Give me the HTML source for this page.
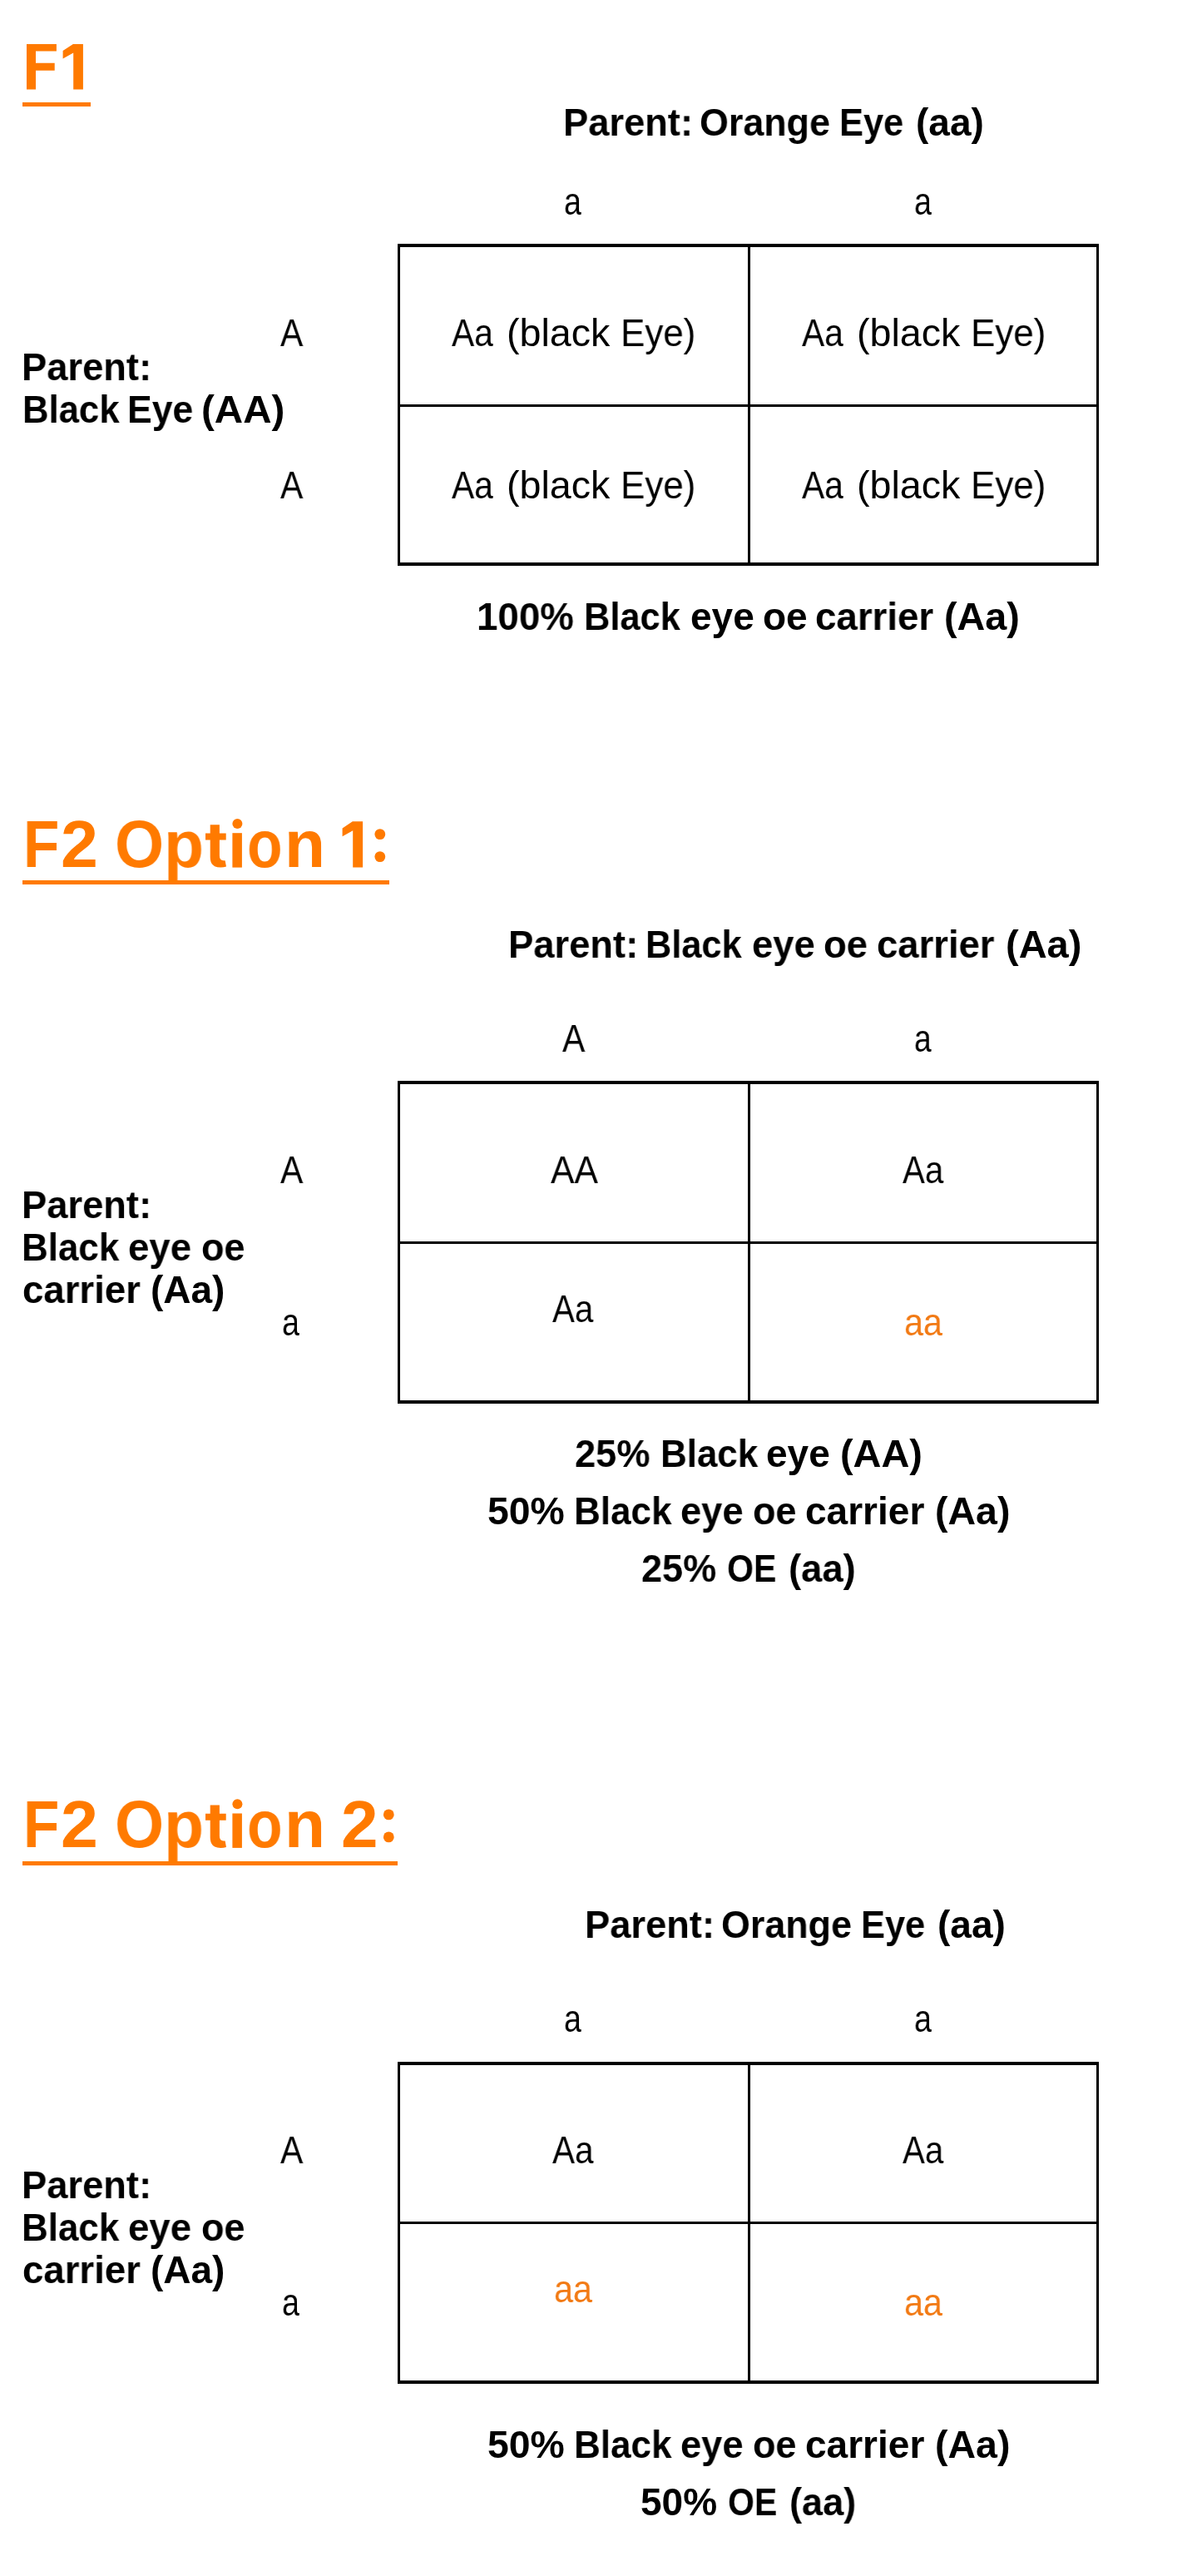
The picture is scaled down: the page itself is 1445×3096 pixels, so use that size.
<!DOCTYPE html>
<html><head><meta charset="utf-8"><title>Punnett squares</title><style>
html,body{margin:0;padding:0;background:#fff;}
body{position:relative;width:1445px;height:3096px;overflow:hidden;font-family:"Liberation Sans",sans-serif;}
.t{position:absolute;white-space:nowrap;line-height:1;transform-origin:0 0;will-change:transform;}
.b{font-weight:bold;}
.ln{position:absolute;}
svg{position:absolute;left:0;top:0;}
</style></head><body>
<div class="ln" style="left:478px;top:293px;width:843px;height:4px;background:#000"></div>
<div class="ln" style="left:478px;top:676px;width:843px;height:4px;background:#000"></div>
<div class="ln" style="left:478px;top:293px;width:3px;height:387px;background:#000"></div>
<div class="ln" style="left:1318px;top:293px;width:3px;height:387px;background:#000"></div>
<div class="ln" style="left:899px;top:293px;width:3px;height:387px;background:#000"></div>
<div class="ln" style="left:478px;top:486px;width:843px;height:3px;background:#000"></div>
<div class="ln" style="left:478px;top:1299px;width:843px;height:4px;background:#000"></div>
<div class="ln" style="left:478px;top:1683px;width:843px;height:4px;background:#000"></div>
<div class="ln" style="left:478px;top:1299px;width:3px;height:388px;background:#000"></div>
<div class="ln" style="left:1318px;top:1299px;width:3px;height:388px;background:#000"></div>
<div class="ln" style="left:899px;top:1299px;width:3px;height:388px;background:#000"></div>
<div class="ln" style="left:478px;top:1492px;width:843px;height:3px;background:#000"></div>
<div class="ln" style="left:478px;top:2478px;width:843px;height:4px;background:#000"></div>
<div class="ln" style="left:478px;top:2861px;width:843px;height:4px;background:#000"></div>
<div class="ln" style="left:478px;top:2478px;width:3px;height:387px;background:#000"></div>
<div class="ln" style="left:1318px;top:2478px;width:3px;height:387px;background:#000"></div>
<div class="ln" style="left:899px;top:2478px;width:3px;height:387px;background:#000"></div>
<div class="ln" style="left:478px;top:2670px;width:843px;height:3px;background:#000"></div>
<div class="ln" style="left:27px;top:123px;width:82px;height:5px;background:#FF7A00"></div>
<div class="ln" style="left:27px;top:1058px;width:441px;height:5px;background:#FF7A00"></div>
<div class="ln" style="left:27px;top:2236.5px;width:451px;height:5px;background:#FF7A00"></div>
<svg width="1445" height="3096" viewBox="0 0 1445 3096">
<polygon points="32,53 67.9,53 67.9,61.6 43,61.6 43,75.7 65.7,75.7 65.7,84.8 43,84.8 43,107.6 32,107.6" fill="#FF7A00"/>
<polygon points="87.9,53 99.9,53 99.9,107.6 88.2,107.6 88.2,63.6 75.6,70.6 75.6,61" fill="#FF7A00"/>
<polygon points="423.8,987.3 436.1,987.3 436.1,1042.5 424.2,1042.5 424.2,998.2 411.6,1005.3 411.6,995.6" fill="#FF7A00"/>
<g transform="translate(0,0)" fill="#FF7A00"><path d="M252.7,991.2H263.9V1001.5H271.7V1009.4H263.9V1028.5Q263.9,1034.2 268.6,1034.2H270.6L272,1041.6Q269.2,1042.6 265.2,1042.6Q252.7,1042.6 252.7,1030.2V1009.4H247V1001.5H252.7Z"/><rect x="279.4" y="1001.2" width="11.5" height="41.4"/><circle cx="285.4" cy="990" r="6"/><circle cx="456.8" cy="1002.6" r="6.4"/><circle cx="456.8" cy="1029.6" r="6.4"/></g>
<g transform="translate(0,1178.3)" fill="#FF7A00"><path d="M252.7,991.2H263.9V1001.5H271.7V1009.4H263.9V1028.5Q263.9,1034.2 268.6,1034.2H270.6L272,1041.6Q269.2,1042.6 265.2,1042.6Q252.7,1042.6 252.7,1030.2V1009.4H247V1001.5H252.7Z"/><rect x="279.4" y="1001.2" width="11.5" height="41.4"/><circle cx="285.4" cy="990" r="6"/><circle cx="467.3" cy="1002.6" r="6.4"/><circle cx="467.3" cy="1029.6" r="6.4"/></g>
</svg>
<div class="t b" style="left:677.45px;top:123.86px;font-size:46px;color:#000;transform:scaleX(0.9841)">Parent:</div>
<div class="t b" style="left:841.05px;top:123.86px;font-size:46px;color:#000;transform:scaleX(0.9747)">Orange</div>
<div class="t b" style="left:1009.37px;top:123.86px;font-size:46px;color:#000;transform:scaleX(0.9423)">Eye</div>
<div class="t b" style="left:1101.00px;top:123.86px;font-size:46px;color:#000">(aa)</div>
<div class="t" style="left:678.08px;top:218.76px;font-size:46px;color:#000;transform:scaleX(0.8125)">a</div>
<div class="t" style="left:1098.66px;top:218.76px;font-size:46px;color:#000;transform:scaleX(0.8208)">a</div>
<div class="t" style="left:336.70px;top:376.76px;font-size:46px;color:#000;transform:scaleX(0.8871)">A</div>
<div class="t" style="left:336.70px;top:559.66px;font-size:46px;color:#000;transform:scaleX(0.8871)">A</div>
<div class="t b" style="left:26.35px;top:418.06px;font-size:46px;color:#000;transform:scaleX(0.9848)">Parent:</div>
<div class="t b" style="left:26.75px;top:469.46px;font-size:46px;color:#000;transform:scaleX(0.9492)">Black</div>
<div class="t b" style="left:153.00px;top:469.46px;font-size:46px;color:#000;transform:scaleX(0.9679)">Eye</div>
<div class="t b" style="left:241.73px;top:469.46px;font-size:46px;color:#000;transform:scaleX(1.0333)">(AA)</div>
<div class="t" style="left:542.60px;top:376.76px;font-size:46px;color:#000;transform:scaleX(0.8842)">Aa</div>
<div class="t" style="left:608.96px;top:376.76px;font-size:46px;color:#000;transform:scaleX(1.0133)">(black</div>
<div class="t" style="left:746.24px;top:376.76px;font-size:46px;color:#000;transform:scaleX(0.9539)">Eye)</div>
<div class="t" style="left:963.50px;top:376.76px;font-size:46px;color:#000;transform:scaleX(0.8842)">Aa</div>
<div class="t" style="left:1029.86px;top:376.76px;font-size:46px;color:#000;transform:scaleX(1.0133)">(black</div>
<div class="t" style="left:1167.14px;top:376.76px;font-size:46px;color:#000;transform:scaleX(0.9539)">Eye)</div>
<div class="t" style="left:542.60px;top:559.56px;font-size:46px;color:#000;transform:scaleX(0.8842)">Aa</div>
<div class="t" style="left:608.96px;top:559.56px;font-size:46px;color:#000;transform:scaleX(1.0133)">(black</div>
<div class="t" style="left:746.24px;top:559.56px;font-size:46px;color:#000;transform:scaleX(0.9539)">Eye)</div>
<div class="t" style="left:963.50px;top:559.56px;font-size:46px;color:#000;transform:scaleX(0.8842)">Aa</div>
<div class="t" style="left:1029.86px;top:559.56px;font-size:46px;color:#000;transform:scaleX(1.0133)">(black</div>
<div class="t" style="left:1167.14px;top:559.56px;font-size:46px;color:#000;transform:scaleX(0.9539)">Eye)</div>
<div class="t b" style="left:572.72px;top:717.76px;font-size:46px;color:#000;transform:scaleX(0.9930)">100%</div>
<div class="t b" style="left:702.17px;top:717.76px;font-size:46px;color:#000;transform:scaleX(0.9433)">Black</div>
<div class="t b" style="left:829.91px;top:717.76px;font-size:46px;color:#000;transform:scaleX(0.9973)">eye</div>
<div class="t b" style="left:917.00px;top:717.76px;font-size:46px;color:#000;transform:scaleX(0.9980)">oe</div>
<div class="t b" style="left:980.01px;top:717.76px;font-size:46px;color:#000;transform:scaleX(0.9929)">carrier</div>
<div class="t b" style="left:1135.47px;top:717.76px;font-size:46px;color:#000;transform:scaleX(1.0153)">(Aa)</div>
<div class="t b" style="left:27.57px;top:974.78px;font-size:80px;color:#FF7A00;transform:scaleX(0.8854)">F</div>
<div class="t b" style="left:73.28px;top:974.78px;font-size:80px;color:#FF7A00;transform:scaleX(1.0075)">2</div>
<div class="t b" style="left:138.36px;top:974.78px;font-size:80px;color:#FF7A00;transform:scaleX(0.9482)">O</div>
<div class="t b" style="left:196.69px;top:974.78px;font-size:80px;color:#FF7A00;transform:scaleX(0.9829)">p</div>
<div class="t b" style="left:297.19px;top:974.78px;font-size:80px;color:#FF7A00;transform:scaleX(0.8698)">o</div>
<div class="t b" style="left:341.79px;top:974.78px;font-size:80px;color:#FF7A00;transform:scaleX(1.0026)">n</div>
<div class="t b" style="left:611.44px;top:1111.76px;font-size:46px;color:#000;transform:scaleX(0.9854)">Parent:</div>
<div class="t b" style="left:776.17px;top:1111.76px;font-size:46px;color:#000;transform:scaleX(0.9417)">Black</div>
<div class="t b" style="left:903.53px;top:1111.76px;font-size:46px;color:#000;transform:scaleX(0.9865)">eye</div>
<div class="t b" style="left:989.92px;top:1111.76px;font-size:46px;color:#000;transform:scaleX(0.9880)">oe</div>
<div class="t b" style="left:1054.32px;top:1111.76px;font-size:46px;color:#000;transform:scaleX(0.9879)">carrier</div>
<div class="t b" style="left:1208.56px;top:1111.76px;font-size:46px;color:#000;transform:scaleX(1.0212)">(Aa)</div>
<div class="t" style="left:676.20px;top:1225.06px;font-size:46px;color:#000;transform:scaleX(0.8871)">A</div>
<div class="t" style="left:1099.09px;top:1225.06px;font-size:46px;color:#000;transform:scaleX(0.8042)">a</div>
<div class="t" style="left:336.70px;top:1382.96px;font-size:46px;color:#000;transform:scaleX(0.8871)">A</div>
<div class="t" style="left:338.56px;top:1565.56px;font-size:46px;color:#000;transform:scaleX(0.8208)">a</div>
<div class="t b" style="left:26.35px;top:1424.76px;font-size:46px;color:#000;transform:scaleX(0.9848)">Parent:</div>
<div class="t b" style="left:26.04px;top:1475.76px;font-size:46px;color:#000;transform:scaleX(0.9550)">Black</div>
<div class="t b" style="left:154.32px;top:1475.76px;font-size:46px;color:#000;transform:scaleX(0.9905)">eye</div>
<div class="t b" style="left:241.64px;top:1475.76px;font-size:46px;color:#000;transform:scaleX(0.9780)">oe</div>
<div class="t b" style="left:27.32px;top:1527.06px;font-size:46px;color:#000;transform:scaleX(0.9908)">carrier</div>
<div class="t b" style="left:181.00px;top:1527.06px;font-size:46px;color:#000">(Aa)</div>
<div class="t" style="left:661.70px;top:1382.86px;font-size:46px;color:#000;transform:scaleX(0.9262)">AA</div>
<div class="t" style="left:1084.90px;top:1382.86px;font-size:46px;color:#000;transform:scaleX(0.8737)">Aa</div>
<div class="t" style="left:664.00px;top:1549.76px;font-size:46px;color:#000;transform:scaleX(0.8737)">Aa</div>
<div class="t" style="left:1086.60px;top:1565.66px;font-size:46px;color:#F27A14;transform:scaleX(0.8980)">aa</div>
<div class="t b" style="left:690.92px;top:1723.76px;font-size:46px;color:#000;transform:scaleX(0.9822)">25%</div>
<div class="t b" style="left:793.64px;top:1723.76px;font-size:46px;color:#000;transform:scaleX(0.9542)">Black</div>
<div class="t b" style="left:921.01px;top:1723.76px;font-size:46px;color:#000;transform:scaleX(0.9973)">eye</div>
<div class="t b" style="left:1009.76px;top:1723.76px;font-size:46px;color:#000;transform:scaleX(1.0194)">(AA)</div>
<div class="t b" style="left:585.59px;top:1792.96px;font-size:46px;color:#000;transform:scaleX(1.0067)">50%</div>
<div class="t b" style="left:689.93px;top:1792.96px;font-size:46px;color:#000;transform:scaleX(0.9567)">Black</div>
<div class="t b" style="left:818.03px;top:1792.96px;font-size:46px;color:#000;transform:scaleX(0.9838)">eye</div>
<div class="t b" style="left:904.84px;top:1792.96px;font-size:46px;color:#000;transform:scaleX(0.9780)">oe</div>
<div class="t b" style="left:967.70px;top:1792.96px;font-size:46px;color:#000;transform:scaleX(1.0007)">carrier</div>
<div class="t b" style="left:1123.78px;top:1792.96px;font-size:46px;color:#000;transform:scaleX(1.0106)">(Aa)</div>
<div class="t b" style="left:770.62px;top:1861.76px;font-size:46px;color:#000;transform:scaleX(0.9789)">25%</div>
<div class="t b" style="left:873.81px;top:1861.76px;font-size:46px;color:#000;transform:scaleX(0.8937)">OE</div>
<div class="t b" style="left:947.83px;top:1861.76px;font-size:46px;color:#000;transform:scaleX(0.9859)">(aa)</div>
<div class="t b" style="left:27.57px;top:2153.08px;font-size:80px;color:#FF7A00;transform:scaleX(0.8854)">F</div>
<div class="t b" style="left:73.28px;top:2153.08px;font-size:80px;color:#FF7A00;transform:scaleX(1.0075)">2</div>
<div class="t b" style="left:138.36px;top:2153.08px;font-size:80px;color:#FF7A00;transform:scaleX(0.9482)">O</div>
<div class="t b" style="left:196.69px;top:2153.08px;font-size:80px;color:#FF7A00;transform:scaleX(0.9829)">p</div>
<div class="t b" style="left:297.19px;top:2153.08px;font-size:80px;color:#FF7A00;transform:scaleX(0.8698)">o</div>
<div class="t b" style="left:341.79px;top:2153.08px;font-size:80px;color:#FF7A00;transform:scaleX(1.0026)">n</div>
<div class="t b" style="left:409.90px;top:2153.08px;font-size:80px;color:#FF7A00;transform:scaleX(0.9975)">2</div>
<div class="t b" style="left:703.25px;top:2289.86px;font-size:46px;color:#000;transform:scaleX(0.9841)">Parent:</div>
<div class="t b" style="left:866.85px;top:2289.86px;font-size:46px;color:#000;transform:scaleX(0.9747)">Orange</div>
<div class="t b" style="left:1035.17px;top:2289.86px;font-size:46px;color:#000;transform:scaleX(0.9423)">Eye</div>
<div class="t b" style="left:1126.80px;top:2289.86px;font-size:46px;color:#000">(aa)</div>
<div class="t" style="left:678.08px;top:2403.06px;font-size:46px;color:#000;transform:scaleX(0.8125)">a</div>
<div class="t" style="left:1098.66px;top:2403.06px;font-size:46px;color:#000;transform:scaleX(0.8208)">a</div>
<div class="t" style="left:336.70px;top:2561.46px;font-size:46px;color:#000;transform:scaleX(0.8871)">A</div>
<div class="t" style="left:338.56px;top:2743.96px;font-size:46px;color:#000;transform:scaleX(0.8208)">a</div>
<div class="t b" style="left:26.35px;top:2602.86px;font-size:46px;color:#000;transform:scaleX(0.9848)">Parent:</div>
<div class="t b" style="left:26.04px;top:2653.96px;font-size:46px;color:#000;transform:scaleX(0.9550)">Black</div>
<div class="t b" style="left:154.32px;top:2653.96px;font-size:46px;color:#000;transform:scaleX(0.9905)">eye</div>
<div class="t b" style="left:241.64px;top:2653.96px;font-size:46px;color:#000;transform:scaleX(0.9780)">oe</div>
<div class="t b" style="left:27.32px;top:2705.06px;font-size:46px;color:#000;transform:scaleX(0.9908)">carrier</div>
<div class="t b" style="left:181.00px;top:2705.06px;font-size:46px;color:#000">(Aa)</div>
<div class="t" style="left:664.00px;top:2561.26px;font-size:46px;color:#000;transform:scaleX(0.8789)">Aa</div>
<div class="t" style="left:1084.90px;top:2561.26px;font-size:46px;color:#000;transform:scaleX(0.8737)">Aa</div>
<div class="t" style="left:665.70px;top:2727.86px;font-size:46px;color:#F27A14;transform:scaleX(0.8980)">aa</div>
<div class="t" style="left:1086.60px;top:2744.16px;font-size:46px;color:#F27A14;transform:scaleX(0.8980)">aa</div>
<div class="t b" style="left:585.59px;top:2914.86px;font-size:46px;color:#000;transform:scaleX(1.0067)">50%</div>
<div class="t b" style="left:689.93px;top:2914.86px;font-size:46px;color:#000;transform:scaleX(0.9567)">Black</div>
<div class="t b" style="left:818.03px;top:2914.86px;font-size:46px;color:#000;transform:scaleX(0.9838)">eye</div>
<div class="t b" style="left:904.84px;top:2914.86px;font-size:46px;color:#000;transform:scaleX(0.9780)">oe</div>
<div class="t b" style="left:967.70px;top:2914.86px;font-size:46px;color:#000;transform:scaleX(1.0007)">carrier</div>
<div class="t b" style="left:1123.78px;top:2914.86px;font-size:46px;color:#000;transform:scaleX(1.0106)">(Aa)</div>
<div class="t b" style="left:769.50px;top:2983.56px;font-size:46px;color:#000;transform:scaleX(0.9967)">50%</div>
<div class="t b" style="left:874.52px;top:2983.56px;font-size:46px;color:#000;transform:scaleX(0.8921)">OE</div>
<div class="t b" style="left:949.04px;top:2983.56px;font-size:46px;color:#000;transform:scaleX(0.9795)">(aa)</div>
</body></html>
